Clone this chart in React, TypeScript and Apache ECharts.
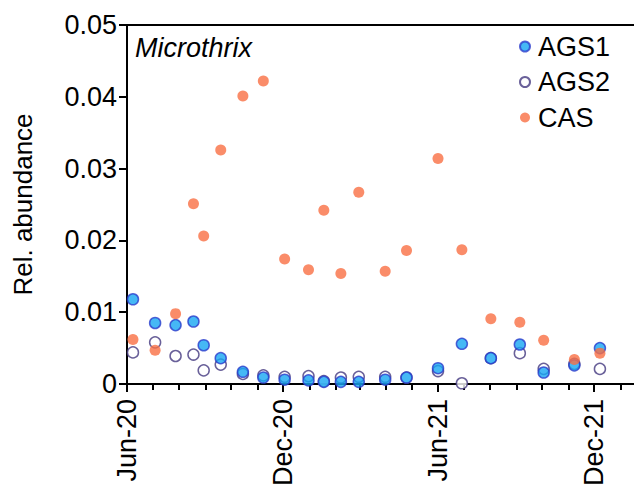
import React, { useEffect, useRef } from "react";
import * as echarts from "echarts";

const sampleDates = [
  "2020-06-08", "2020-07-04", "2020-07-28", "2020-08-18", "2020-08-30",
  "2020-09-19", "2020-10-15", "2020-11-08", "2020-12-03", "2020-12-31",
  "2021-01-18", "2021-02-07", "2021-02-28", "2021-03-31", "2021-04-25",
  "2021-06-01", "2021-06-29", "2021-08-02", "2021-09-05", "2021-10-03",
  "2021-11-08", "2021-12-08",
];

const ags1 = [
  0.0118, 0.0085, 0.0082, 0.0087, 0.0054, 0.0036, 0.0017, 0.0009, 0.0006, 0.0005,
  0.0003, 0.0003, 0.0003, 0.0006, 0.0009, 0.0022, 0.0056, 0.0036, 0.0055, 0.0016,
  0.0026, 0.005,
];

const ags2 = [
  0.0044, 0.0058, 0.0039, 0.0041, 0.0019, 0.0027, 0.0014, 0.0012, 0.001, 0.0011,
  0.0004, 0.0009, 0.001, 0.001, 0.0009, 0.0018, 0.0001, 0.0036, 0.0043, 0.0021,
  0.0028, 0.0021,
];

const cas = [
  0.0062, 0.0047, 0.0098, 0.0251, 0.0206, 0.0326, 0.0401, 0.0422, 0.0174, 0.0159,
  0.0242, 0.0154, 0.0267, 0.0157, 0.0186, 0.0314, 0.0187, 0.0091, 0.0086, 0.0061,
  0.0034, 0.0043,
];

const labelMonths = ["2020-06-01", "2020-12-01", "2021-06-01", "2021-12-01"];
const axisStart = "2020-06-01";
const axisEnd = "2022-01-17";

const MONTHS = ["Jan", "Feb", "Mar", "Apr", "May", "Jun", "Jul", "Aug", "Sep", "Oct", "Nov", "Dec"];

function ts(s: string): number {
  const [y, m, d] = s.split("-").map(Number);
  return new Date(y, m - 1, d).getTime();
}

function monthStarts(start: string, end: string): number[] {
  const out: number[] = [];
  const [y0, m0] = start.split("-").map(Number);
  const e = ts(end);
  let y = y0;
  let m = m0 - 1;
  while (true) {
    const t = new Date(y, m, 1).getTime();
    if (t > e) break;
    out.push(t);
    m++;
    if (m > 11) { m = 0; y++; }
  }
  return out;
}

const FONT = "'Liberation Sans', Arial, sans-serif";
const FS = 27;

export default function App() {
  const ref = useRef<HTMLDivElement>(null);
  useEffect(() => {
    document.body.style.margin = "0";
    if (!ref.current) return;
    const chart = echarts.init(ref.current, undefined, { renderer: "svg" });
    const minT = ts(axisStart);
    const maxT = ts(axisEnd);
    const ticks = monthStarts(axisStart, axisEnd);
    const majors = labelMonths.map(ts);
    const fmt = (v: number) => {
      const d = new Date(v);
      return MONTHS[d.getMonth()] + "-" + String(d.getFullYear()).slice(2);
    };
    const mk = (vals: number[]) => sampleDates.map((d, i) => [ts(d), vals[i]]);

    chart.setOption({
      animation: false,
      textStyle: { fontFamily: FONT },
      title: {
        text: "Microthrix",
        left: 130,
        top: 29,
        textStyle: { fontFamily: FONT, fontSize: FS, fontStyle: "italic", fontWeight: "normal", color: "#000" },
      },
      legend: {
        orient: "vertical",
        left: 514,
        top: 28,
        itemWidth: 10,
        itemHeight: 10,
        itemGap: 8.5,
        icon: "circle",
        data: ["AGS1", "AGS2", "CAS"],
        textStyle: { fontFamily: FONT, fontSize: FS, color: "#000", lineHeight: 27, padding: [0, 0, 0, 3] },
      },
      grid: { left: 127, top: 25, right: 0, bottom: 106, outerBoundsMode: "none", containLabel: false },
      xAxis: [
        {
          type: "value",
          min: minT,
          max: maxT,
          splitLine: { show: false },
          axisLine: { show: true, lineStyle: { color: "#000", width: 2 } },
          axisTick: { show: true, length: 6, lineStyle: { color: "#000", width: 2 }, customValues: ticks },
          axisLabel: {
            customValues: majors,
            rotate: 90,
            margin: 15,
            fontSize: FS,
            fontFamily: FONT,
            color: "#000",
            formatter: (v: number) => fmt(v),
          },
        },
        {
          type: "value",
          position: "bottom",
          min: minT,
          max: maxT,
          splitLine: { show: false },
          axisLine: { show: false },
          axisTick: { show: true, length: 8, lineStyle: { color: "#000", width: 2 }, customValues: majors },
          axisLabel: { show: false },
        },
        {
          type: "value",
          position: "top",
          min: minT,
          max: maxT,
          splitLine: { show: false },
          axisLine: { show: true, lineStyle: { color: "#000", width: 2 } },
          axisTick: { show: false },
          axisLabel: { show: false },
        },
      ],
      yAxis: {
        type: "value",
        min: 0,
        max: 0.05,
        interval: 0.01,
        name: "Rel. abundance",
        nameLocation: "middle",
        nameGap: 91,
        nameRotate: 90,
        nameTextStyle: { fontFamily: FONT, fontSize: 26, color: "#000" },
        splitLine: { show: false },
        axisLine: { show: true, lineStyle: { color: "#000", width: 2 } },
        axisTick: { show: true, length: 8, lineStyle: { color: "#000", width: 2 } },
        axisLabel: {
          margin: 10,
          fontSize: FS,
          fontFamily: FONT,
          color: "#000",
          formatter: (v: number) => (v === 0 ? "0" : v.toFixed(2)),
        },
      },
      series: [
        {
          name: "AGS2",
          type: "scatter",
          data: mk(ags2),
          symbol: "circle",
          symbolSize: 11,
          itemStyle: { color: "#ffffff", borderColor: "#43387f", borderWidth: 1.5 },
        },
        {
          name: "AGS1",
          type: "scatter",
          data: mk(ags1),
          symbol: "circle",
          symbolSize: 11,
          itemStyle: { color: "#16a6f2", borderColor: "#2b3ccc", borderWidth: 1.5 },
        },
        {
          name: "CAS",
          type: "scatter",
          data: mk(cas),
          symbol: "circle",
          symbolSize: 11,
          itemStyle: { color: "#f96f44" },
        },
      ],
    });
    return () => chart.dispose();
  }, []);
  return <div ref={ref} style={{ width: 634, height: 490 }} />;
}
